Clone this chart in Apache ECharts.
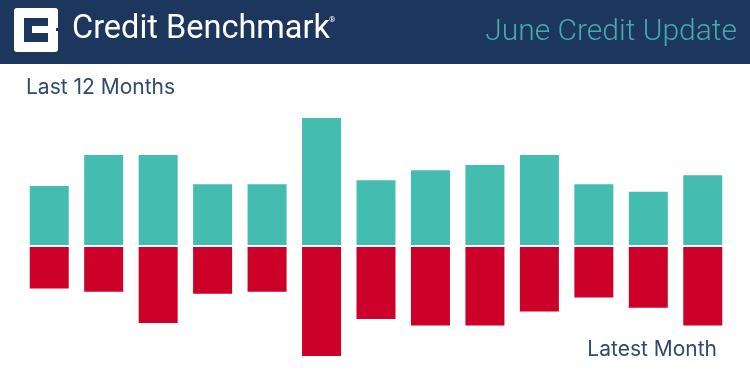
<!DOCTYPE html>
<html><head><meta charset="utf-8">
<style>html,body{margin:0;padding:0;background:#fff}#c{width:750px;height:375px}</style>
<script src="https://cdn.jsdelivr.net/npm/echarts@6/dist/echarts.min.js"></script>
</head><body><div id="c"></div>
<script>
const months = ['1','2','3','4','5','6','7','8','9','10','11','12','13'];
const upgrades = [46.5,71,71,48,48,100,51,59,63,71,48,42,55];
const downgrades = [-34,-36.5,-61,-38,-36.5,-87,-58,-63,-63,-52,-41,-49,-63];
const navy = '#1c365e', ink = '#2f4a6d';
const chart = echarts.init(document.getElementById('c'), null, {renderer:'canvas'});
chart.setOption({
  animation:false,
  backgroundColor:'#fff',
  grid:{left:22,right:20,top:118,bottom:19},
  xAxis:{type:'category',data:months,z:5,
    axisLine:{show:true,onZero:true,lineStyle:{color:'#fff',width:2}},
    axisTick:{show:false},axisLabel:{show:false},splitLine:{show:false}},
  yAxis:{type:'value',min:-87,max:100,show:false,splitLine:{show:false}},
  series:[
    {type:'bar',name:'Upgrades',data:upgrades,barWidth:39,barGap:'-100%',itemStyle:{color:'#44bdb0'}},
    {type:'bar',name:'Downgrades',data:downgrades,barWidth:39,itemStyle:{color:'#cc0028'}}
  ],
  graphic:[
    {type:'rect',z:10,shape:{x:0,y:0,width:750,height:64},style:{fill:navy}},
    {type:'rect',z:11,shape:{x:14,y:8,width:44,height:44,r:3},style:{fill:'#fff'}},
    {type:'rect',z:12,shape:{x:24,y:18,width:24,height:24},style:{fill:navy}},
    {type:'rect',z:13,shape:{x:32,y:26,width:17,height:7},style:{fill:'#fff'}},
    {type:'rect',z:13,shape:{x:56,y:28,width:2,height:3},style:{fill:navy}},
    {type:'text',z:12,style:{x:72,y:30,text:'Credit Benchmark',fill:'#fff',font:'400 32.5px Roboto',textVerticalAlign:'middle'}},
    {type:'text',z:12,style:{x:329,y:20,text:'®',fill:'#fff',font:'400 8px Roboto',textVerticalAlign:'middle'}},
    {type:'text',z:12,style:{x:737,y:32,text:'June Credit Update',fill:'#45a9ae',font:'300 30px Roboto',textAlign:'right',textVerticalAlign:'middle'}},
    {type:'text',z:12,style:{x:26,y:88,text:'Last 12 Months',fill:ink,font:'400 21px Inter',textVerticalAlign:'middle'}},
    {type:'text',z:12,style:{x:717,y:350,text:'Latest Month',fill:ink,font:'400 21px Inter',textAlign:'right',textVerticalAlign:'middle'}}
  ]
});
</script></body></html>
